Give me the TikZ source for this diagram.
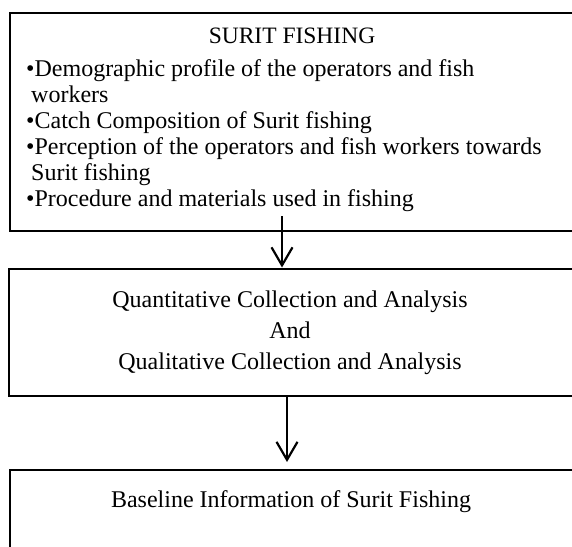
\documentclass[tikz,border=0pt]{standalone}
\usepackage{fontspec}
\setmainfont{Liberation Serif}
\usetikzlibrary{arrows.meta}
\begin{document}
\begin{tikzpicture}[x=1pt,y=-1pt,
  box/.style={draw=black,line width=2.2pt,anchor=north west,inner sep=0pt},
  txt/.style={inner sep=0pt,font=\fontsize{24}{26}\selectfont},
  flow/.style={line width=2.2pt,-{Straight Barb[length=18pt,width=21pt,line width=2.2pt]}}]
\useasboundingbox (0,0) rectangle (572,546);
\node[box,minimum width=580pt,minimum height=218pt] (b1) at (9,12) {};
\node[box,minimum width=565pt,minimum height=127pt] (b2) at (7.5,267.5) {};
\node[box,minimum width=564pt,minimum height=100pt] (b3) at (8.5,469) {};
\node[txt,anchor=base,font=\fontsize{23.5}{26}\selectfont] (t0) at (292,43) {SURIT FISHING};
\node[txt,anchor=base west] (t1) at (26,76) {•Demographic profile of the operators and fish};
\node[txt,anchor=base west] (t2) at (31,102) {workers};
\node[txt,anchor=base west] (t3) at (26,128) {•Catch Composition of Surit fishing};
\node[txt,anchor=base west] (t4) at (26,154) {•Perception of the operators and fish workers towards};
\node[txt,anchor=base west] (t5) at (31,180) {Surit fishing};
\node[txt,anchor=base west] (t6) at (26,206) {•Procedure and materials used in fishing};
\node[txt,anchor=base] (q1) at (290,307) {Quantitative Collection and Analysis};
\node[txt,anchor=base] (q2) at (290,338) {And};
\node[txt,anchor=base] (q3) at (290,369) {Qualitative Collection and Analysis};
\node[txt,anchor=base] (r1) at (291,507) {Baseline Information of Surit Fishing};
\coordinate (a1) at (282,216);
\draw[flow] (a1) -- (a1 |- b2.north);
\draw[flow,shorten >=7pt] (b2.south -| 287,0) -- (b3.north -| 287,0);
\end{tikzpicture}
\end{document}
